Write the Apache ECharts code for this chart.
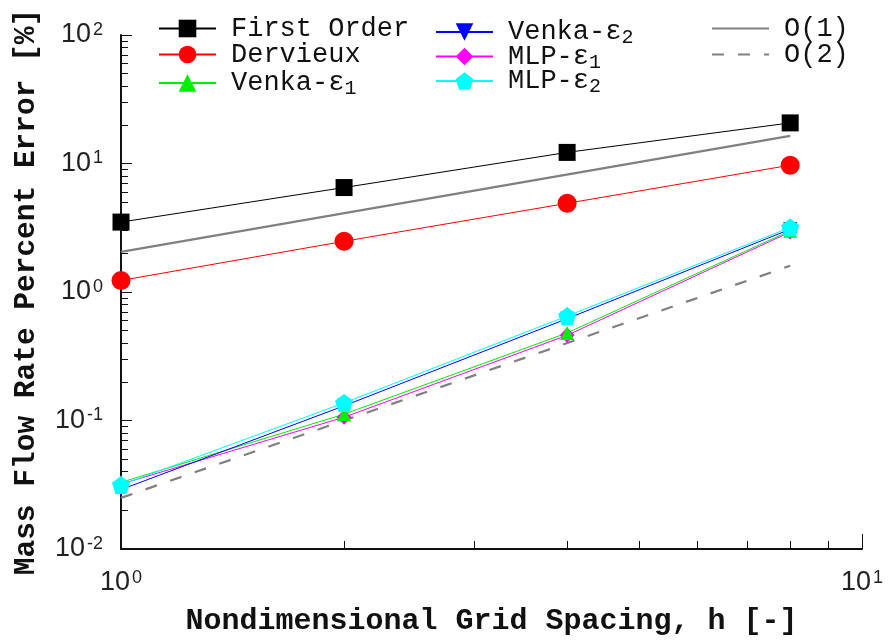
<!DOCTYPE html>
<html><head><meta charset="utf-8">
<script src="https://cdn.jsdelivr.net/npm/echarts@6/dist/echarts.min.js"></script>
<style>html,body{margin:0;padding:0;background:#fff}#c{width:890px;height:643px}</style>
</head><body><div id="c"></div>
<script>
const h = [1, 2, 4, 8];
const firstOrder = [3.5, 6.5, 12.2, 20.7];
const dervieux = [1.23, 2.48, 4.9, 9.7];
const venka1 = [0.033, 0.112, 0.48, 3.0];
const venka2 = [0.029, 0.13, 0.62, 3.08];
const mlp1 = [0.032, 0.106, 0.46, 2.93];
const mlp2 = [0.0315, 0.137, 0.65, 3.18];
const hRef = [1, 8];
const order1 = [2.05, 16.4];
const order2 = [0.025, 1.6];
const xMinorTicks = [2, 3, 4, 5, 6, 7, 8, 9];
const yMinorTicks = [0.02,0.03,0.04,0.05,0.06,0.07,0.08,0.09,0.2,0.3,0.4,0.5,0.6,0.7,0.8,0.9,2,3,4,5,6,7,8,9,20,30,40,50,60,70,80,90];

const pair = (xs, ys) => xs.map((x, i) => [x, ys[i]]);
const mono = 'Liberation Mono';
const pent = 'path://M0,-1 L0.951,-0.309 L0.588,0.809 L-0.588,0.809 L-0.951,-0.309 Z';

const powLabel = v => '{b|10}{s|' + Math.round(Math.log10(v)) + '}';
const labelRich = {
  b: {fontFamily: 'Liberation Sans', fontSize: 27, color: '#222', lineHeight: 28},
  s: {fontFamily: 'Liberation Sans', fontSize: 18, color: '#222', lineHeight: 14, verticalAlign: 'top', padding: [0, 0, 0, 2]}
};
const legFmt = name => {
  const m = name.match(/^(.*ε)(\d)$/);
  return m ? '{m|' + m[1] + '}{sub|' + m[2] + '}' : '{m|' + name + '}';
};
const legText = {
  fontFamily: mono, fontSize: 27, color: '#111', padding: [0, 0, 0, 10],
  rich: {
    m: {fontFamily: mono, fontSize: 27, color: '#111', lineHeight: 24},
    sub: {fontFamily: mono, fontSize: 20, color: '#111', lineHeight: 12, padding: [12, 0, 0, 0]}
  }
};
const legBase = {orient: 'vertical', itemWidth: 57, itemHeight: 22, padding: 0, formatter: legFmt, textStyle: legText};
const hideSym = {itemStyle: {opacity: 0}};

const chart = echarts.init(document.getElementById('c'));
function line(name, data, color, symbol, size, extra) {
  return Object.assign({
    name, type: 'line', data, xAxisIndex: 0, yAxisIndex: 0,
    symbol, symbolSize: size, showAllSymbol: true,
    lineStyle: {color, width: 1}, itemStyle: {color}, z: 3, animation: false
  }, extra || {});
}
chart.setOption({
  animation: false,
  grid: {left: 121, right: 28, top: 35, bottom: 94},
  legend: [
    Object.assign({}, legBase, {left: 158, top: 15, itemGap: -1, data: ['First Order', 'Dervieux', 'Venka-ε1']}),
    Object.assign({}, legBase, {left: 435, top: 16, itemGap: -7.5, data: ['Venka-ε2', 'MLP-ε1', 'MLP-ε2']}),
    Object.assign({}, legBase, {left: 711, top: 15, itemGap: -1, data: [Object.assign({name: 'O(1)'}, hideSym), Object.assign({name: 'O(2)'}, hideSym)]})
  ],
  xAxis: [
    {type: 'log', logBase: 10, min: 1, max: 10, position: 'bottom',
     name: 'Nondimensional Grid Spacing, h [-]', nameLocation: 'middle', nameGap: 57,
     nameTextStyle: {fontFamily: mono, fontWeight: 'bold', fontSize: 30, color: '#111'},
     axisLine: {lineStyle: {color: '#111', width: 2}},
     axisTick: {inside: true, length: 15, lineStyle: {color: '#111', width: 1}},
     axisLabel: {formatter: powLabel, rich: labelRich, margin: 20},
     splitLine: {show: false}, minorTick: {show: false}},
    {type: 'log', logBase: 10, min: 1, max: 10, position: 'bottom',
     axisLine: {show: false},
     axisTick: {inside: true, length: 8, customValues: xMinorTicks, lineStyle: {color: '#111', width: 1}},
     axisLabel: {show: false}, splitLine: {show: false}}
  ],
  yAxis: [
    {type: 'log', logBase: 10, min: 0.01, max: 100, position: 'left',
     name: 'Mass Flow Rate Percent Error [%]', nameLocation: 'middle', nameGap: 79, nameRotate: 90,
     nameTextStyle: {fontFamily: mono, fontWeight: 'bold', fontSize: 29.5, color: '#111'},
     axisLine: {show: true, lineStyle: {color: '#111', width: 2}},
     axisTick: {show: true, inside: true, length: 11, lineStyle: {color: '#111', width: 1}},
     axisLabel: {formatter: powLabel, rich: labelRich, margin: 18},
     splitLine: {show: false}},
    {type: 'log', logBase: 10, min: 0.01, max: 100, position: 'left',
     axisLine: {show: false},
     axisTick: {show: true, inside: true, length: 7, customValues: yMinorTicks, lineStyle: {color: '#111', width: 1}},
     axisLabel: {show: false}, splitLine: {show: false}}
  ],
  series: [
    line('O(1)', pair(hRef, order1), '#808080', 'none', 0, {showSymbol: false, lineStyle: {color: '#808080', width: 2.2}, z: 2}),
    line('O(2)', pair(hRef, order2), '#808080', 'none', 0, {showSymbol: false, lineStyle: {color: '#808080', width: 2.2, type: [12, 14]}, z: 2}),
    line('First Order', pair(h, firstOrder), '#000000', 'rect', 17),
    line('Dervieux', pair(h, dervieux), '#ff0000', 'circle', 19),
    line('MLP-ε1', pair(h, mlp1), '#ff00ff', 'diamond', 15),
    line('Venka-ε1', pair(h, venka1), '#00ee00', 'triangle', 14),
    line('Venka-ε2', pair(h, venka2), '#0000ff', 'triangle', 14, {symbolRotate: 180}),
    line('MLP-ε2', pair(h, mlp2), '#00ffff', pent, 18)
  ]
});
</script>
</body></html>
